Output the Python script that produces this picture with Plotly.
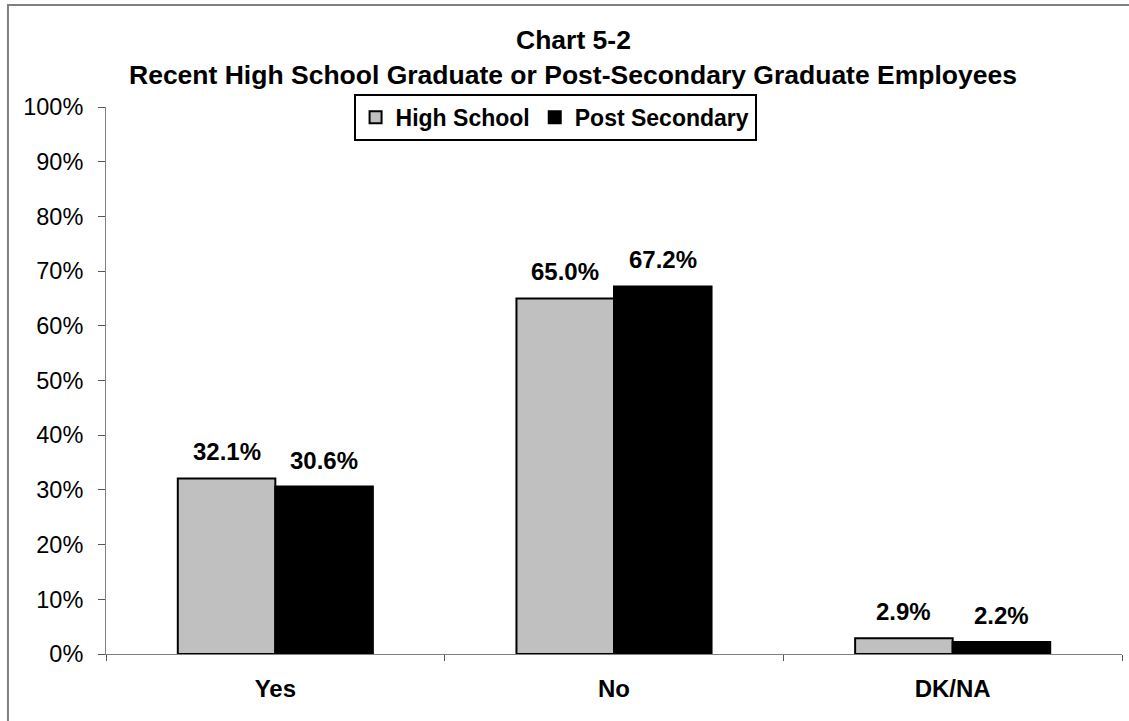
import plotly.graph_objects as go

categories = ["Yes", "No", "DK/NA"]
high_school = [32.1, 65.0, 2.9]
post_secondary = [30.6, 67.2, 2.2]
y_ticks = [0, 10, 20, 30, 40, 50, 60, 70, 80, 90, 100]
y_tick_labels = [f"{t}%" for t in y_ticks]

FONT = "Arial, Liberation Sans, sans-serif"

fig = go.Figure()
fig.add_trace(go.Bar(name="High School", x=categories, y=high_school,
                     marker=dict(color="#C0C0C0", line=dict(color="black", width=2))))
fig.add_trace(go.Bar(name="Post Secondary", x=categories, y=post_secondary,
                     marker=dict(color="black", line=dict(color="black", width=2))))

bar_half = 48.75
for series, shift in ((high_school, -bar_half), (post_secondary, bar_half)):
    for c, v in zip(categories, series):
        fig.add_annotation(x=c, y=v, xref="x", yref="y", text=f"<b>{v:.1f}%</b>",
                           showarrow=False, xshift=shift, yanchor="bottom", yshift=11,
                           font=dict(family=FONT, size=24, color="black"))

fig.add_annotation(x=0.4597, y=1.1225, xref="paper", yref="paper", text="<b>Chart 5-2</b>",
                   showarrow=False, xanchor="center", yanchor="middle",
                   font=dict(family=FONT, size=26.5, color="black"))
fig.add_annotation(x=0.4597, y=1.0585, xref="paper", yref="paper",
                   text="<b>Recent High School Graduate or Post-Secondary Graduate Employees</b>",
                   showarrow=False, xanchor="center", yanchor="middle",
                   font=dict(family=FONT, size=26.5, color="black"))

# outer chart border (cropped at right/bottom in the reference)
fig.add_shape(type="rect", xref="paper", yref="paper", x0=-0.0965, x1=1.3, y0=-0.3, y1=1.1865,
              line=dict(color="#808080", width=2), fillcolor="rgba(0,0,0,0)", layer="below")

fig.update_layout(
    width=1129, height=721,
    margin=dict(l=106, r=7, t=107, b=67),
    paper_bgcolor="white", plot_bgcolor="white",
    barmode="group", bargap=0.424, bargroupgap=0,
    font=dict(family=FONT, size=24, color="black"),
    showlegend=True,
    legend=dict(orientation="h", x=0.442, y=1.024, xanchor="center", yanchor="top",
                bordercolor="black", borderwidth=2, bgcolor="white",
                font=dict(family=FONT, size=23, color="black", weight="bold"),
                itemwidth=30, tracegroupgap=0),
    xaxis=dict(showline=True, linecolor="#808080", linewidth=1, ticks="outside",
               tickson="boundaries", ticklen=6, tickcolor="#555", showgrid=False,
               tickfont=dict(family=FONT, size=24, color="black", weight="bold"),
               ticklabelstandoff=13, zeroline=False),
    yaxis=dict(range=[0, 100], tickvals=y_ticks, ticktext=y_tick_labels,
               showline=True, linecolor="#808080", linewidth=1, ticks="outside",
               ticklen=7, tickcolor="#555", showgrid=False, zeroline=False,
               tickfont=dict(family=FONT, size=23.5, color="black"),
               ticklabelstandoff=10),
)

fig.write_html("out.html")
